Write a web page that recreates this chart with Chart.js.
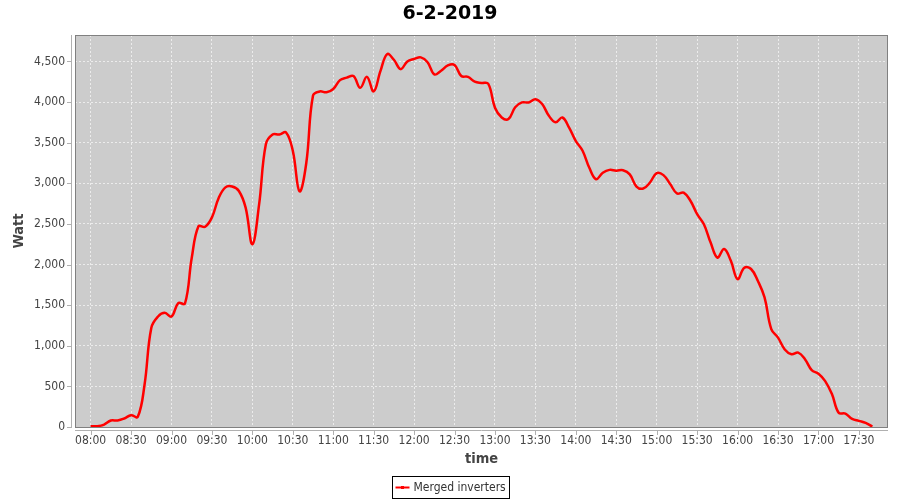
<!DOCTYPE html>
<html>
<head>
<meta charset="utf-8">
<script src="https://cdn.jsdelivr.net/npm/chart.js@4.4.0/dist/chart.umd.min.js"></script>
<style>
body{margin:0;background:#fff;}
</style>
</head>
<body>
<canvas id="myChart" width="900" height="500"></canvas>
<script>
// readings every 5 minutes
var times=['08:00','08:05','08:10','08:15','08:20','08:25','08:30','08:35','08:40','08:45','08:50','08:55',
'09:00','09:05','09:10','09:15','09:20','09:25','09:30','09:35','09:40','09:45','09:50','09:55',
'10:00','10:05','10:10','10:15','10:20','10:25','10:30','10:35','10:40','10:45','10:50','10:55',
'11:00','11:05','11:10','11:15','11:20','11:25','11:30','11:35','11:40','11:45','11:50','11:55',
'12:00','12:05','12:10','12:15','12:20','12:25','12:30','12:35','12:40','12:45','12:50','12:55',
'13:00','13:05','13:10','13:15','13:20','13:25','13:30','13:35','13:40','13:45','13:50','13:55',
'14:00','14:05','14:10','14:15','14:20','14:25','14:30','14:35','14:40','14:45','14:50','14:55',
'15:00','15:05','15:10','15:15','15:20','15:25','15:30','15:35','15:40','15:45','15:50','15:55',
'16:00','16:05','16:10','16:15','16:20','16:25','16:30','16:35','16:40','16:45','16:50','16:55',
'17:00','17:05','17:10','17:15','17:20','17:25','17:30','17:35','17:40'];
var watts=[10,10,30,80,80,105,145,125,520,1220,1360,1405,
1360,1525,1520,2080,2470,2465,2580,2820,2950,2960,2905,2700,
2250,2740,3480,3600,3600,3625,3400,2900,3250,4080,4130,4120,
4160,4270,4300,4320,4175,4310,4130,4380,4590,4520,4405,4500,
4530,4550,4490,4340,4385,4450,4455,4320,4310,4250,4235,4225,
3930,3810,3790,3935,3995,3995,4035,3975,3830,3750,3810,3685,
3520,3400,3190,3050,3130,3165,3155,3160,3110,2960,2935,3010,
3125,3100,2990,2875,2885,2785,2620,2495,2270,2085,2190,2045,
1820,1960,1945,1800,1595,1205,1100,955,895,915,835,700,
655,565,405,175,165,100,75,50,5];
var xTicks=['08:00','08:30','09:00','09:30','10:00','10:30','11:00','11:30','12:00','12:30','13:00','13:30',
'14:00','14:30','15:00','15:30','16:00','16:30','17:00','17:30'];
var yTicks=[0,500,1000,1500,2000,2500,3000,3500,4000,4500];

function toMin(s){ var p=s.split(':'); return parseInt(p[0])*60+parseInt(p[1]); }
function fmt(m){ var h=Math.floor(m/60), mm=m%60; return (h<10?'0':'')+h+':'+(mm<10?'0':'')+mm; }

var pts=[];
for(var i=0;i<times.length;i++){ pts.push({x:toMin(times[i]),y:watts[i]}); }

var FONT='"DejaVu Sans Condensed", "DejaVu Sans", sans-serif';

var jfree={
  id:'jfree',
  beforeDraw:function(chart){
    var c=chart.ctx, a=chart.chartArea;
    c.save();
    c.fillStyle='#fff'; c.fillRect(0,0,chart.width,chart.height);
    c.fillStyle='#cccccc'; c.fillRect(a.left,a.top,a.right-a.left,a.bottom-a.top);
    c.restore();
  },
  afterDraw:function(chart){
    var c=chart.ctx, a=chart.chartArea;
    c.save();
    // plot outline
    c.strokeStyle='#808080'; c.lineWidth=1;
    c.strokeRect(a.left+0.5,a.top+0.5,a.right-a.left-1,a.bottom-a.top);
    // axis lines, set off from the plot
    c.strokeStyle='#b0b0b0';
    c.beginPath();
    c.moveTo(a.left-3.5,a.top); c.lineTo(a.left-3.5,a.bottom+1);
    chart.scales.y.ticks.forEach(function(t){
      var y=Math.round(chart.scales.y.getPixelForValue(t.value))+0.5;
      c.moveTo(a.left-8,y); c.lineTo(a.left-3.5,y);
    });
    c.moveTo(a.left,a.bottom+3.5); c.lineTo(a.right,a.bottom+3.5);
    chart.scales.x.ticks.forEach(function(t){
      var x=Math.round(chart.scales.x.getPixelForValue(t.value))+0.5;
      c.moveTo(x,a.bottom+3.5); c.lineTo(x,a.bottom+8);
    });
    c.stroke();
    // legend
    var ds=chart.data.datasets[0];
    c.font='12px '+FONT;
    var tw=c.measureText(ds.label).width;
    var bw=Math.round(3+14+4+tw+4), bx=Math.round(450-bw/2)+0.5, by=476.5;
    c.strokeStyle='#000'; c.lineWidth=1;
    c.strokeRect(bx,by,bw,22);
    c.strokeStyle=ds.borderColor; c.lineWidth=2;
    c.beginPath(); c.moveTo(bx+3,by+11); c.lineTo(bx+17,by+11); c.stroke();
    c.fillStyle=ds.borderColor; c.fillRect(bx+8.5,by+9.5,3,3);
    c.fillStyle='#333'; c.textBaseline='middle'; c.textAlign='left';
    c.fillText(ds.label,bx+21,by+11.5);
    c.restore();
  }
};

var ctx=document.getElementById('myChart').getContext('2d');
var chart=new Chart(ctx,{
  type:'line',
  data:{
    datasets:[{
      label:'Merged inverters',
      data:pts,
      borderColor:'#ff0000',
      borderWidth:2.5,
      pointRadius:0,
      tension:0.4,
      fill:false
    }]
  },
  options:{
    responsive:false,
    animation:false,
    layout:{padding:0},
    plugins:{
      legend:{display:false},
      tooltip:{enabled:false},
      title:{
        display:true,
        text:'6-2-2019',
        color:'#000',
        font:{family:'"DejaVu Sans"',size:19,weight:'bold'},
        padding:{top:3,bottom:9.2}
      }
    },
    scales:{
      x:{
        type:'linear',
        min:468.4,
        max:1071.6,
        afterBuildTicks:function(s){ s.ticks=xTicks.map(function(t){return {value:toMin(t)};}); },
        afterFit:function(s){ s.height=73; },
        ticks:{
          color:'#444',
          font:{family:FONT,size:12},
          padding:7,
          maxRotation:0,
          autoSkip:false,
          callback:function(v){ return fmt(v); }
        },
        grid:{color:'#ececec',lineWidth:1,drawTicks:false},
        border:{display:false,dash:[2,2]},
        title:{display:true,text:'time',color:'#444',font:{family:FONT,size:14.5,weight:'bold'},padding:{top:0,bottom:32}}
      },
      y:{
        min:0,
        max:4825,
        afterBuildTicks:function(s){ s.ticks=yTicks.map(function(v){return {value:v};}); },
        afterFit:function(s){ s.width=75; },
        ticks:{
          color:'#444',
          font:{family:FONT,size:12},
          padding:10,
          callback:function(v){ return v.toLocaleString('en-US'); }
        },
        grid:{color:'#ececec',lineWidth:1,drawTicks:false},
        border:{display:false,dash:[2,2]},
        title:{display:true,text:'Watt',color:'#444',font:{family:FONT,size:14.5,weight:'bold'},padding:{top:11,bottom:0}}
      },
      pad:{
        // empty strip on the right so the plot ends at 888 while the title stays centred
        position:'right',
        min:0,
        max:1,
        afterFit:function(s){ s.width=12; },
        ticks:{display:false},
        grid:{display:false},
        border:{display:false}
      }
    }
  },
  plugins:[jfree]
});
</script>
</body>
</html>
